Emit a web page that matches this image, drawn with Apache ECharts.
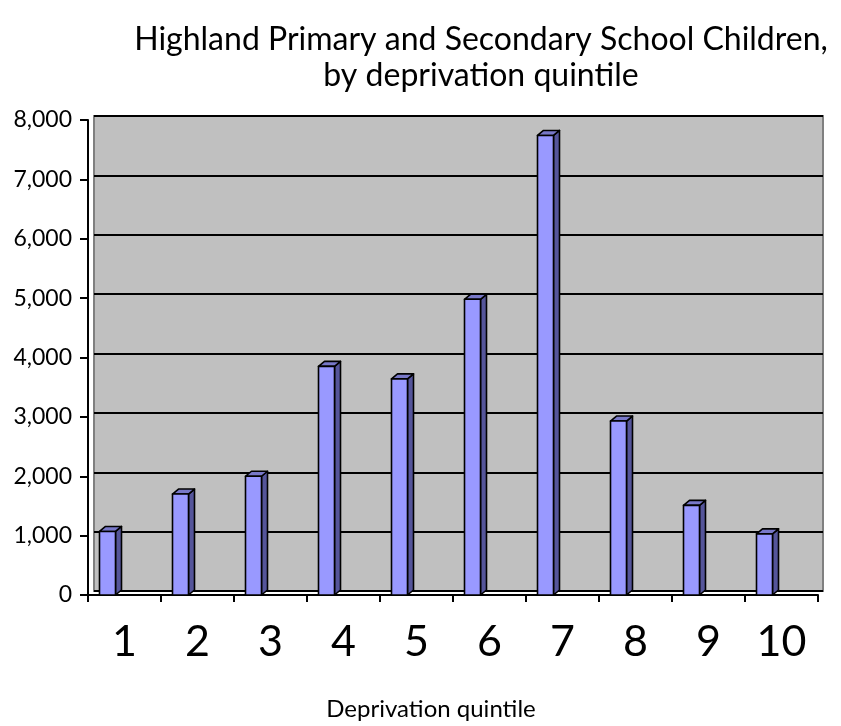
<!DOCTYPE html>
<html>
<head>
<meta charset="utf-8">
<script src="https://cdn.jsdelivr.net/npm/echarts@6/dist/echarts.min.js"></script>
<style>html,body{margin:0;padding:0;background:#fff;}#c{width:841px;height:726px;}</style>
</head>
<body>
<div id="c"></div>
<script>
var categories = ['1','2','3','4','5','6','7','8','9','10'];
var children = [1070, 1700, 2000, 3850, 3640, 4980, 7740, 2930, 1510, 1030];
var yTicks = [0, 1000, 2000, 3000, 4000, 5000, 6000, 7000, 8000];
var titleText = 'Highland Primary and Secondary School Children,\nby deprivation quintile';
var xName = 'Deprivation quintile';

var FONT = 'Lato';
var chart = echarts.init(document.getElementById('c'));

function renderBar(params, api) {
  var idx = api.value(0);
  var top = api.coord([idx, api.value(1)]);
  var base = api.coord([idx, 0]);
  var w = 16, dx = 6, dy = 5;
  var L = top[0] - 25, R = L + w, T = top[1], B = base[1];
  var st = {stroke: '#000', lineWidth: 1.6, lineJoin: 'round'};
  return {
    type: 'group',
    children: [
      {type: 'polygon', shape: {points: [[R, T], [R + dx, T - dy], [R + dx, B - dy], [R, B]]},
       style: Object.assign({fill: '#55559A'}, st)},
      {type: 'polygon', shape: {points: [[L, T], [L + dx, T - dy], [R + dx, T - dy], [R, T]]},
       style: Object.assign({fill: '#7878C8'}, st)},
      {type: 'rect', shape: {x: L, y: T, width: w, height: B - T},
       style: Object.assign({fill: '#9999FF'}, st)}
    ]
  };
}

chart.setOption({
  animation: false,
  backgroundColor: '#fff',
  title: {
    text: titleText,
    left: 476,
    top: 17,
    textAlign: 'center',
    textStyle: {fontFamily: FONT, fontWeight: 'normal', fontSize: 32, color: '#000', lineHeight: 36}
  },
  grid: [
    {left: 88, right: 23, top: 120, bottom: 131, show: false},
    {left: 94, right: 18, top: 116, bottom: 135, show: true, backgroundColor: '#C0C0C0',
     borderColor: '#808080', borderWidth: 2, z: 0}
  ],
  xAxis: [
    {type: 'category', gridIndex: 0, data: categories, boundaryGap: true,
     axisLine: {show: true, lineStyle: {color: '#000', width: 2}},
     axisTick: {show: true, length: 7, lineStyle: {color: '#000', width: 2}},
     axisLabel: {fontFamily: FONT, fontSize: 43, color: '#000', margin: 26},
     name: xName, nameLocation: 'middle', nameGap: 102,
     nameTextStyle: {fontFamily: FONT, fontSize: 24, color: '#000', padding: [0, 44, 0, 0]}
    },
    {type: 'category', gridIndex: 1, data: categories, show: false}
  ],
  yAxis: [
    {type: 'value', gridIndex: 0, min: 0, max: 8000, interval: 1000,
     axisLine: {show: true, lineStyle: {color: '#000', width: 2}},
     axisTick: {show: true, length: 8, lineStyle: {color: '#000', width: 2}},
     axisLabel: {fontFamily: FONT, fontSize: 23, color: '#000', margin: 16,
       formatter: function (v) { return yTicks.indexOf(v) >= 0 ? v.toLocaleString('en-US') : ''; }},
     splitLine: {show: false}
    },
    {type: 'value', gridIndex: 1, min: 0, max: 8000, interval: 1000, show: true,
     axisLine: {show: false}, axisTick: {show: false}, axisLabel: {show: false},
     splitLine: {show: true, lineStyle: {color: '#000', width: 2}}
    }
  ],
  series: [
    {type: 'custom', xAxisIndex: 0, yAxisIndex: 0, renderItem: renderBar,
     data: children.map(function (v, i) { return [i, v]; }), z: 5}
  ]
});
</script>
</body>
</html>
